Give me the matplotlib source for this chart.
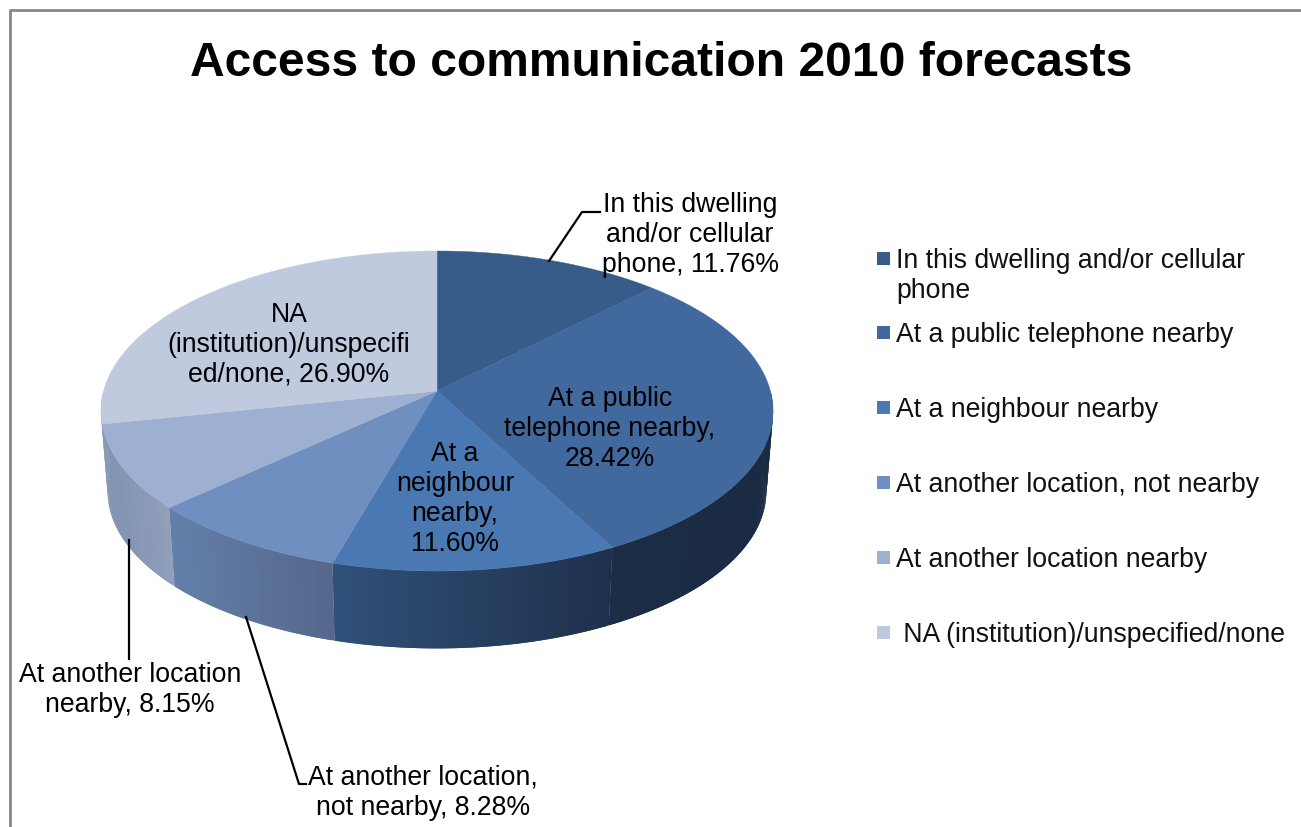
import numpy as np
import matplotlib
matplotlib.use('Agg')
import matplotlib.pyplot as plt
from matplotlib.colors import to_rgb
from matplotlib.patches import Rectangle

plt.rcParams['font.family'] = ['Liberation Sans', 'DejaVu Sans']

#------- Data

categories = ['In this dwelling and/or cellular\nphone',
              'At a public telephone nearby',
              'At a neighbour nearby',
              'At another location, not nearby',
              'At another location nearby',
              ' NA (institution)/unspecified/none']
values = [11.76, 28.42, 11.60, 8.28, 8.15, 26.90]
slice_labels = ['In this dwelling\nand/or cellular\nphone, 11.76%',
                'At a public\ntelephone nearby,\n28.42%',
                'At a\nneighbour\nnearby,\n11.60%',
                'At another location,\nnot nearby, 8.28%',
                'At another location\nnearby, 8.15%',
                'NA\n(institution)/unspecifi\ned/none, 26.90%']
title = 'Access to communication 2010 forecasts'

#------- Colours

top_colors = ['#375c8a', '#41699e', '#4a78b2', '#6f8fc0', '#9db0d2', '#bfcadf']
side_left = ['#2a4466', '#1c2d47', '#2f5179', '#6380aa', '#8092b1', '#8a9bb8']
side_right = ['#2a4466', '#1a2a42', '#1f304d', '#55678b', '#909fba', '#8a9bb8']

#------- Tilted disc: apex, half sizes and perspective strength in pixels

cx, cy = 437, 392
half_w, half_h = 333.4, 157.5
persp = 0.125
base_scale = 0.98
base_cy = 473.0


def project(theta, scale=1.0, center_y=cy):
    # theta in degrees, clockwise from the top of the pie
    t = np.radians(theta)
    w = 1 + persp * np.cos(t)
    return cx + scale * half_w * np.sin(t) / w, center_y - scale * half_h * np.cos(t) / w


fig = plt.figure(figsize=(13.01, 8.28), dpi=100)
ax = fig.add_axes([0, 0, 1, 1])
ax.set_xlim(0, 1301)
ax.set_ylim(828, 0)
ax.axis('off')

edges = np.concatenate([[0], np.cumsum(values)]) / np.sum(values) * 360

#------- Side wall, strips overlap the next one so no seams show in the gradient

for i in range(len(values)):
    start = max(edges[i], 90)
    stop = min(edges[i + 1], 270)
    if stop <= start:
        continue
    steps = np.linspace(start, stop, int(stop - start) * 2 + 2)
    xs_mid = project(steps)[0]
    left, right = np.array(to_rgb(side_left[i])), np.array(to_rgb(side_right[i]))
    # going clockwise at the front means walking from right to left on screen
    for j in range(len(steps) - 1):
        a = steps[j]
        b = steps[min(j + 2, len(steps) - 1)]
        frac = (xs_mid[j] - xs_mid.min()) / max(xs_mid.max() - xs_mid.min(), 1)
        col = left + (right - left) * frac
        x1, y1 = project(np.array([a, b]))
        x2, y2 = project(np.array([b, a]), base_scale, base_cy)
        ax.fill(np.r_[x1, x2], np.r_[y1, y2], facecolor=col, edgecolor='none', zorder=1)

#------- Top face

for i in range(len(values)):
    arc = np.linspace(edges[i], edges[i + 1], 120)
    x, y = project(arc)
    ax.fill(np.r_[cx, x], np.r_[cy, y], color=top_colors[i], lw=0.3, zorder=2)

#------- Data labels

label_pos = [(690, 235), (610, 429), (455, 499), (423, 793), (130, 690), (289, 345)]
for text, (px, py) in zip(slice_labels, label_pos):
    ax.text(px, py, text, ha='center', va='center', fontsize=19.2, linespacing=1.2,
            color='black', zorder=4)

#------- Leader lines

ax.plot([549, 582, 600], [262, 213, 213], color='black', lw=1.6, zorder=3)
ax.plot([129, 129], [541, 660], color='black', lw=1.6, zorder=3)
ax.plot([246, 299, 306], [618, 785, 785], color='black', lw=1.6, zorder=3)

#------- Legend

legend_y = [259, 333, 408, 483, 558, 633]
for name, col, ly in zip(categories, top_colors, legend_y):
    ax.add_patch(Rectangle((877, ly - 6.5), 13, 13, color=col, lw=0))
    ax.text(896, ly - 11, name, ha='left', va='top', fontsize=19.2, linespacing=1.2, color='#111111')

#------- Title and chart border

ax.text(661, 63, title, ha='center', va='center', fontsize=34.6, fontweight='bold', color='black')
ax.plot([9.5, 9.5, 1301], [828, 10.5, 10.5], color='#868686', lw=2)

fig.savefig('out.png', dpi=100)
